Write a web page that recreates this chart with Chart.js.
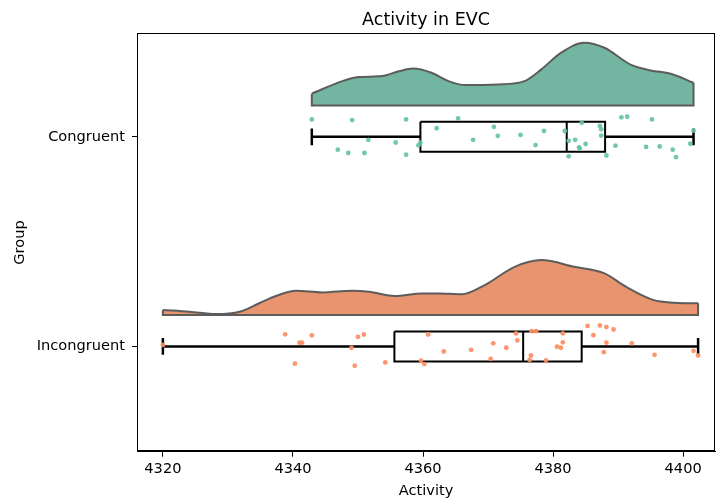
<!DOCTYPE html>
<html><head><meta charset="utf-8">
<script src="https://cdn.jsdelivr.net/npm/chart.js@4.4.1/dist/chart.umd.min.js"></script>
<style>html,body{margin:0;padding:0;background:#fff}canvas{display:block}</style>
</head><body><canvas id="c" width="719" height="503"></canvas>
<script>
// ---- data ----
const groups = ['Congruent', 'Incongruent'];
const xTicks = [4320, 4340, 4360, 4380, 4400];
const titleText = 'Activity in EVC';

const congruentValues = [4342.9, 4349.1, 4357.4, 4362.1, 4365.4, 4370.9, 4371.5, 4367.7, 4351.6, 4355.8, 4359.3, 4359.6, 4346.9, 4348.5, 4351.0, 4357.4, 4375.0, 4378.6, 4377.3, 4381.8, 4382.4, 4382.4, 4383.4, 4384.0, 4384.1, 4385.0, 4384.4, 4387.2, 4387.4, 4387.4, 4388.2, 4389.6, 4390.5, 4391.4, 4395.2, 4394.3, 4396.4, 4398.4, 4398.9, 4401.1, 4401.6];
const congruentJitter = [-0.083, -0.080, -0.083, -0.041, -0.088, -0.048, -0.005, 0.014, 0.014, 0.027, 0.041, 0.028, 0.061, 0.077, 0.077, 0.085, -0.009, -0.028, 0.039, -0.028, 0.093, 0.019, 0.014, 0.050, 0.055, 0.034, -0.067, -0.052, -0.036, -0.006, 0.089, 0.042, -0.093, -0.096, -0.083, 0.048, 0.046, 0.061, 0.097, 0.033, -0.030];

const incongruentValues = [4320.0, 4338.8, 4342.9, 4341.0, 4341.4, 4340.3, 4349.0, 4350.0, 4350.9, 4349.5, 4354.2, 4360.8, 4359.7, 4360.2, 4363.2, 4367.4, 4370.8, 4372.8, 4370.4, 4374.3, 4374.5, 4376.6, 4376.4, 4376.7, 4377.4, 4381.5, 4381.5, 4380.6, 4381.2, 4378.9, 4385.3, 4387.2, 4388.2, 4386.2, 4389.3, 4388.2, 4387.8, 4392.1, 4395.6, 4401.6, 4402.3];
const incongruentJitter = [-0.007, -0.058, -0.053, -0.018, -0.018, 0.082, 0.006, -0.046, -0.057, 0.092, 0.076, -0.057, 0.068, 0.084, 0.024, 0.016, -0.015, 0.006, 0.059, -0.062, -0.029, 0.043, 0.064, -0.073, -0.073, -0.062, -0.020, 0.001, 0.006, 0.067, -0.098, -0.100, -0.093, -0.054, -0.081, -0.018, 0.027, -0.015, 0.040, 0.021, 0.043];

// box stats: [low whisker, Q1, median, Q3, high whisker]
const congruentBox = [4342.9, 4359.6, 4382.1, 4388.0, 4401.6];
const incongruentBox = [4320.0, 4355.6, 4375.4, 4384.4, 4402.3];

// half-violin (cloud) density profiles
const congruentDensityX = [4342.9, 4347.6, 4350.1, 4353.7, 4356.3, 4358.5, 4361.3, 4363.9, 4366.5, 4371.5, 4375.6, 4378.2, 4381.2, 4384.8, 4387.9, 4391.9, 4395.0, 4398.1, 4401.6];
const congruentDensity = [0.056, 0.116, 0.135, 0.140, 0.163, 0.176, 0.156, 0.116, 0.097, 0.100, 0.116, 0.172, 0.251, 0.299, 0.275, 0.195, 0.167, 0.151, 0.108];
const incongruentDensityX = [4320.0, 4324.1, 4328.2, 4331.8, 4334.8, 4337.4, 4340.5, 4344.5, 4349.1, 4351.7, 4355.7, 4359.8, 4362.4, 4365.9, 4369.5, 4374.1, 4378.2, 4383.3, 4387.9, 4391.2, 4395.5, 4398.6, 4402.3];
const incongruentDensity = [0.024, 0.016, 0.005, 0.016, 0.056, 0.091, 0.116, 0.108, 0.116, 0.111, 0.091, 0.103, 0.103, 0.099, 0.143, 0.230, 0.262, 0.230, 0.199, 0.135, 0.071, 0.059, 0.056];

// ---- styling ----
const CLOUD_OFFSET = -0.15, BOX_HALF = 0.0715, CAP_HALF = 0.04;
const OUTLINE = '#5c5c5c';
const pointColors = ['rgba(102,194,165,0.92)', 'rgba(252,141,98,0.92)'];
const cloudColors = ['#72b6a1', '#e8956f'];
const FONT = 'DejaVu Sans';

function cloud(xs, hs, cat, color) {
  const base = cat + CLOUD_OFFSET;
  const n = xs.length - 1;
  return [
    { data: xs.map((x, i) => ({ x, y: base - hs[i] })), fill: { value: base },
      backgroundColor: color, borderColor: OUTLINE, borderWidth: 2, pointRadius: 0,
      cubicInterpolationMode: 'monotone', order: 3 },
    { data: [{ x: xs[0], y: base - hs[0] }, { x: xs[0], y: base }, { x: xs[n], y: base }, { x: xs[n], y: base - hs[n] }],
      fill: false, borderColor: OUTLINE, borderWidth: 2, pointRadius: 0, tension: 0, order: 2 }
  ];
}
function seg(pts, w) {
  return { data: pts, fill: false, borderColor: '#000', borderWidth: w, pointRadius: 0, tension: 0, order: 1, borderCapStyle: 'butt' };
}
function box(s, cat) {
  const [lo, q1, med, q3, hi] = s, t = cat - BOX_HALF, b = cat + BOX_HALF;
  return [
    seg([{ x: q1, y: t }, { x: q3, y: t }, { x: q3, y: b }, { x: q1, y: b }, { x: q1, y: t }], 2),
    seg([{ x: med, y: t }, { x: med, y: b }], 2),
    seg([{ x: lo, y: cat }, { x: q1, y: cat }], 2.5),
    seg([{ x: q3, y: cat }, { x: hi, y: cat }], 2.5),
    seg([{ x: lo, y: cat - CAP_HALF }, { x: lo, y: cat + CAP_HALF }], 2.5),
    seg([{ x: hi, y: cat - CAP_HALF }, { x: hi, y: cat + CAP_HALF }], 2.5)
  ];
}
function rain(vals, jit, cat, color) {
  return { data: vals.map((v, i) => ({ x: v, y: cat + jit[i] })), showLine: false,
    pointRadius: 2.4, pointBorderWidth: 0, pointBackgroundColor: color, backgroundColor: color, borderColor: color, order: 0 };
}

const datasets = [
  ...cloud(congruentDensityX, congruentDensity, 0, cloudColors[0]),
  ...cloud(incongruentDensityX, incongruentDensity, 1, cloudColors[1]),
  ...box(congruentBox, 0),
  ...box(incongruentBox, 1),
  rain(congruentValues, congruentJitter, 0, pointColors[0]),
  rain(incongruentValues, incongruentJitter, 1, pointColors[1])
];

Chart.defaults.font.family = FONT;
Chart.defaults.font.size = 14.6;
Chart.defaults.color = '#000';

const framePlugin = {
  id: 'frame',
  afterDraw(chart) {
    const { ctx, chartArea: a } = chart;
    ctx.save();
    ctx.strokeStyle = '#000';
    ctx.lineWidth = 1;
    ctx.strokeRect(Math.round(a.left) + 0.5, Math.round(a.top) + 0.5, Math.round(a.right - a.left) - 1, Math.round(a.bottom - a.top) - 1);
    // axes title, centred over the plotting area like matplotlib
    ctx.fillStyle = '#000';
    ctx.font = '17.5px "' + FONT + '"';
    ctx.textAlign = 'center';
    ctx.textBaseline = 'alphabetic';
    ctx.fillText(titleText, (a.left + a.right) / 2, a.top - 8.3);
    ctx.restore();
  }
};

new Chart(document.getElementById('c'), {
  type: 'line',
  data: { datasets },
  plugins: [framePlugin],
  options: {
    responsive: false,
    animation: false,
    events: [],
    layout: { padding: { left: 0, right: 1, top: 33.3, bottom: 0 } },
    plugins: {
      legend: { display: false },
      tooltip: { enabled: false },
      title: { display: false }
    },
    scales: {
      x: {
        type: 'linear', min: 4316.02, max: 4404.9,
        afterBuildTicks: s => { s.ticks = xTicks.map(v => ({ value: v })); },
        afterFit: s => { s.height = 51.3; s.paddingLeft = 0; s.paddingRight = 0; },
        ticks: { padding: 4, color: '#000', font: { size: 14.6 }, maxRotation: 0, callback: v => String(v) },
        grid: { drawOnChartArea: false, drawTicks: true, tickLength: 5, color: '#000', lineWidth: 1 },
        border: { display: true, color: '#000', width: 1 },
        title: { display: true, text: 'Activity', color: '#000', font: { size: 14.6, lineHeight: 1.2 }, padding: { top: 0, bottom: 3.2 } }
      },
      y: {
        type: 'linear', min: -0.494, max: 1.502, reverse: true,
        afterBuildTicks: s => { s.ticks = groups.map((g, i) => ({ value: i })); },
        afterFit: s => { s.width = 137; s.paddingTop = 0; s.paddingBottom = 0; },
        ticks: { padding: 7, color: '#000', font: { size: 14.6 }, callback: v => groups[v] !== undefined ? groups[v] : '' },
        grid: { drawOnChartArea: false, drawTicks: true, tickLength: 5, color: '#000', lineWidth: 1 },
        border: { display: true, color: '#000', width: 1 },
        title: { display: true, text: 'Group', color: '#000', font: { size: 14.6, lineHeight: 1.2 }, padding: { top: 11.2, bottom: 0 } }
      }
    }
  }
});
</script>
</body></html>
